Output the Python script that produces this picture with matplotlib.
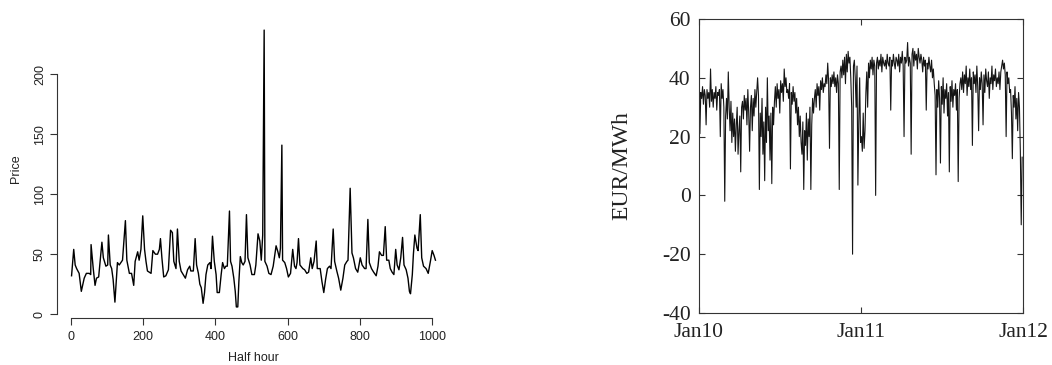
import matplotlib
matplotlib.use("Agg")
import matplotlib.pyplot as plt
import pandas as pd

# ---------------- left panel data (half-hourly price) ----------------
half_hour = [2, 8, 12, 16, 23, 29, 37, 43, 51, 55, 56, 62, 67, 71, 77, 86, 90, 97, 102, 104,
             109, 113, 117, 122, 127, 129, 134, 143, 151, 155, 162, 168, 174, 178, 185, 189,
             194, 199, 204, 208, 212, 222, 227, 234, 240, 245, 248, 252, 257, 263, 270, 276,
             281, 285, 291, 295, 300, 305, 311, 317, 323, 329, 332, 339, 344, 348, 353, 357,
             361, 366, 370, 374, 379, 385, 388, 392, 397, 402, 405, 411, 416, 420, 425, 429,
             433, 439, 442, 446, 451, 455, 458, 462, 465, 469, 473, 477, 482, 486, 490, 496,
             501, 508, 512, 518, 523, 527, 531, 535, 537, 543, 548, 554, 560, 568, 573, 577,
             580, 584, 586, 592, 597, 602, 608, 614, 619, 623, 626, 630, 634, 642, 647, 653,
             658, 664, 668, 673, 679, 682, 690, 695, 700, 705, 710, 716, 720, 726, 730, 736,
             741, 747, 753, 758, 764, 767, 773, 778, 782, 788, 794, 801, 806, 813, 817, 822,
             826, 832, 838, 845, 850, 854, 860, 865, 870, 874, 880, 884, 889, 894, 899, 903,
             908, 913, 918, 922, 928, 933, 937, 940, 945, 948, 952, 958, 961, 967, 971, 976,
             983, 989, 995, 1000, 1005, 1009]
price = [32, 54, 41, 38, 34, 19, 30, 34, 34, 33, 58, 38, 24, 30, 31, 60, 47, 40, 41, 66,
         41, 38, 29, 10, 33, 43, 41, 45, 78, 45, 34, 34, 24, 44, 52, 45,
         54, 82, 54, 44, 36, 34, 53, 50, 50, 54, 63, 47, 31, 32, 37, 70,
         68, 44, 38, 71, 44, 36, 33, 30, 37, 40, 36, 36, 63, 41, 34, 25,
         22, 9, 18, 33, 41, 43, 38, 65, 44, 33, 18, 18, 33, 43, 38, 40,
         40, 86, 44, 40, 30, 19, 6, 6, 27, 48, 43, 41, 44, 83, 47, 41,
         33, 33, 41, 67, 61, 45, 66, 237, 44, 40, 34, 33, 40, 57, 52, 47,
         55, 141, 45, 43, 38, 31, 34, 54, 40, 38, 43, 63, 41, 38, 37, 34,
         35, 47, 38, 44, 61, 38, 38, 27, 18, 29, 38, 40, 38, 71, 44, 36,
         30, 20, 30, 41, 44, 45, 105, 51, 47, 38, 35, 47, 41, 38, 38, 79,
         43, 38, 35, 32, 40, 52, 49, 49, 73, 45, 45, 38, 35, 33, 54, 41,
         37, 47, 64, 41, 37, 30, 19, 17, 33, 50, 66, 55, 53, 83, 47, 40,
         38, 34, 44, 53, 49, 45]
left_xticks = [0, 200, 400, 600, 800, 1000]
left_yticks = [0, 50, 100, 150, 200]

# ---------------- right panel data (daily EUR/MWh, every 2nd day) ----------------
eur_2010 = [28, 21, 35, 33, 37, 31, 36, 34, 24, 36, 33, 35, 30,
            43, 32, 36, 30, 35, 33, 37, 29, 35, 34, 36, 20, 38, 33, 36,
            30, -2, 27, 33, 26, 42, 30, 22, 32, 18, 28, 20, 26, 15, 24, 30, 14, 22, 27,
            8, 30, 32, 26, 34, 29, 33, 24, 36, 28, 15, 30, 34, 22, 33, 27, 36, 30, 35,
            40, 34, 2,
            28, 20, 33, 14, 25, 5, 30, 18, 40, 22, 27, 12, 28, 4, 30, 24,
            32, 37, 30, 38, 33, 36, 28, 39, 35, 38, 32, 43, 37, 40, 35,
            36, 33, 38, 9, 35, 31, 37,
            32, 35, 28, 33, 24, 30, 20, 27, 18, 14, 25, 2, 22, 17, 28, 12, 26, 20, 30, 2, 24, 33, 28,
            33, 36, 30, 38, 34, 37, 29, 39, 36, 40, 35, 38, 37, 41, 38, 45, 39, 16, 40, 37, 41, 38,
            42, 37, 40, 35, 41, 38, 2, 42,
            44, 40, 46, 41, 47, 38, 48, 42, 49, 45, 47, 40, 30, -20, 44,
            46, 40, 30, 44, 3.5, 25, 40, 18]
eur_2011 = [20, 15, 28, 16, 22, 35, 42, 30, 45, 40, 46, 43, 47, 41, 46, 44, 0, 45,
            47, 43, 46, 44, 48, 42, 47, 45, 44, 46, 43, 48, 45, 44, 47, 29, 46, 44, 48, 45,
            43, 47, 46, 44, 48, 42, 47, 45, 49, 44, 20, 47, 45, 46, 52, 44, 47,
            45, 14, 48, 50, 44, 49, 46, 48, 43, 50, 47, 45, 48, 46, 42, 47, 44, 46, 29, 45,
            43, 47, 44, 42, 46, 40, 43,
            38, 34, 7, 36, 30, 39, 33, 11, 37, 31, 40, 28, 36, 33, 38, 27, 35, 8, 37, 32,
            39, 30, 36, 34, 38, 29, 36, 4.7, 33, 38,
            40, 36, 42, 35, 41, 38, 44, 34, 40, 37, 43, 36, 40, 17, 42, 38, 41, 35, 44, 37,
            22, 40, 36, 42, 38, 24, 41, 35, 43, 39, 37, 42, 33, 40, 38, 44, 36, 41, 39, 43,
            37, 40, 38, 42, 36,
            42, 44, 46, 43, 45, 41, 20, 42, 38, 40, 35,
            36, 28, 12.5, 34, 30, 37, 26, 33, 22, 35, 30, 15, -10, 13]
right_yticks = [-40, -20, 0, 20, 40, 60]
right_xtick_labels = ["Jan10", "Jan11", "Jan12"]
right_xtick_dates = ["2010-01-01", "2011-01-01", "2012-01-01"]

# ---------------- figure ----------------
fig = plt.figure(figsize=(10.52, 3.65), dpi=100)

# Left: R-style plot
sans = ["Liberation Sans", "DejaVu Sans"]
axL = fig.add_axes([57 / 1052, 1 - 318 / 365, 393 / 1052, 299 / 365])
axL.plot(half_hour, price, color="black", lw=1.0)
axL.margins(x=0.04, y=0.04)
for s in ("top", "right"):
    axL.spines[s].set_visible(False)
axL.spines["left"].set_bounds(left_yticks[0], left_yticks[-1])
axL.spines["bottom"].set_bounds(left_xticks[0], left_xticks[-1])
for s in ("left", "bottom"):
    axL.spines[s].set_linewidth(0.8)
    axL.spines[s].set_color("#333333")
axL.set_xticks(left_xticks)
axL.set_yticks(left_yticks)
axL.tick_params(axis="both", direction="out", length=5, width=0.8, color="#333333",
                labelsize=9, labelcolor="#222222")
axL.tick_params(axis="x", pad=4)
axL.tick_params(axis="y", pad=3)
axL.set_xticklabels([str(v) for v in left_xticks], family=sans)
axL.set_yticklabels([str(v) for v in left_yticks], family=sans, rotation=90, va="center")
axL.set_xlabel("Half hour", family=sans, fontsize=9, color="#222222")
axL.set_ylabel("Price", family=sans, fontsize=9, color="#222222")
axL.xaxis.set_label_coords(0.499, -0.113)
axL.yaxis.set_label_coords(-0.088, 0.5)

# Right: MATLAB-style box plot
serif = ["Liberation Serif", "DejaVu Serif"]
dates = pd.date_range("2010-01-01", periods=len(eur_2010) + len(eur_2011), freq="2D")
eur = eur_2010 + eur_2011
axR = fig.add_axes([699 / 1052, 1 - 313 / 365, 324 / 1052, 294 / 365])
axR.plot(dates, eur, color="#151515", lw=0.8)
axR.set_xlim(pd.Timestamp(right_xtick_dates[0]), pd.Timestamp(right_xtick_dates[-1]))
axR.set_ylim(right_yticks[0], right_yticks[-1])
axR.set_yticks(right_yticks)
axR.set_xticks([pd.Timestamp(d) for d in right_xtick_dates])
axR.set_xticklabels(right_xtick_labels, family=serif)
axR.set_yticklabels([str(v) for v in right_yticks], family=serif)
axR.tick_params(axis="both", direction="in", length=4, width=0.8, top=True, right=True,
                labelsize=15.5, colors="#333333", labelcolor="#222222")
axR.tick_params(axis="x", pad=7)
axR.tick_params(axis="y", pad=6)
for s in axR.spines.values():
    s.set_linewidth(0.8)
    s.set_color("#333333")
axR.set_ylabel("EUR/MWh", family=serif, fontsize=17, color="#222222")
axR.yaxis.set_label_coords(-0.207, 0.5)

fig.savefig("out.png", dpi=100)
